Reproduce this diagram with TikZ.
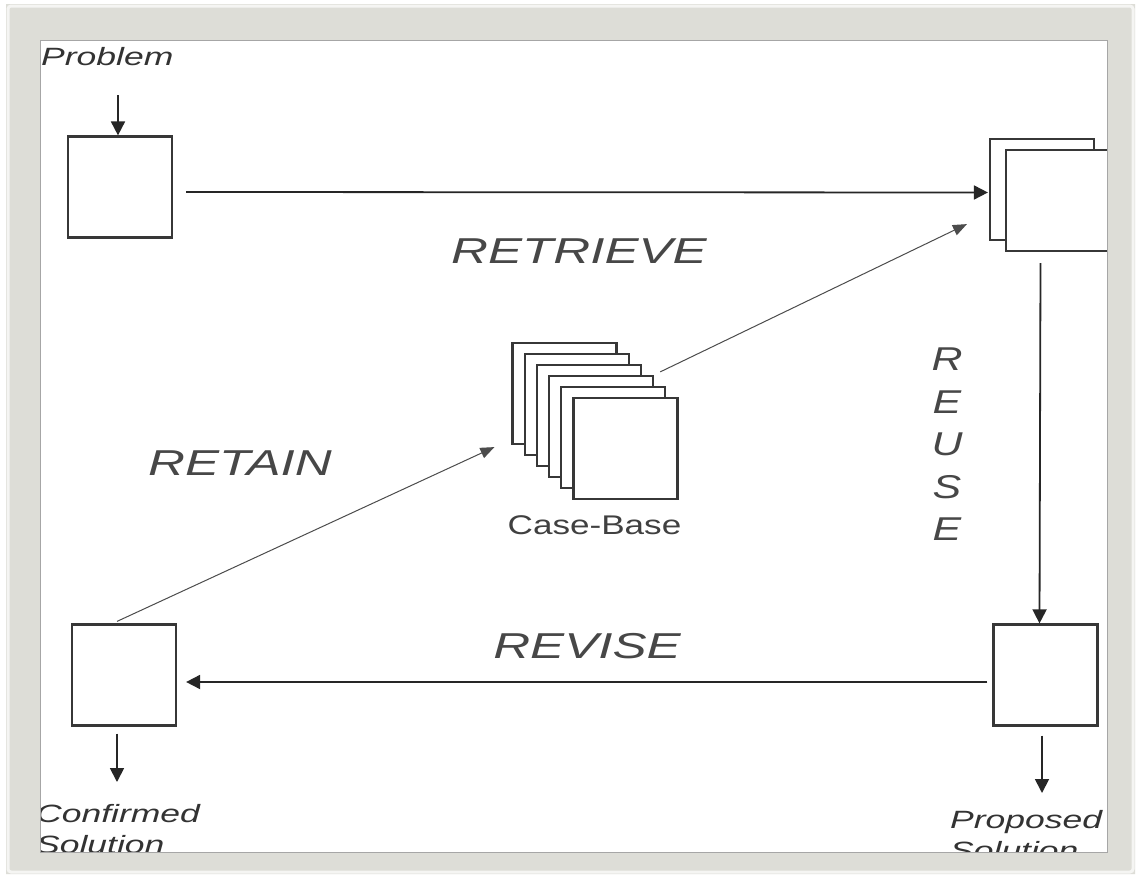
\documentclass[tikz,border=0pt]{standalone}
\usepackage{fontspec}
\newfontfamily\diagfont[FakeStretch=1.42]{Liberation Sans}
\newfontfamily\cbfont[FakeStretch=1.3]{Liberation Sans}
\usetikzlibrary{arrows.meta,positioning}
\definecolor{framegray}{RGB}{221,221,215}
\definecolor{boxline}{RGB}{55,55,55}

\begin{document}
\begin{tikzpicture}[x=1pt,y=-1pt,>={Triangle[length=14pt,width=14pt]}]
\tikzstyle{card}=[rectangle,draw=boxline,line width=2.2pt,fill=white,minimum width=104pt,minimum height=101pt,inner sep=0pt]
\tikzstyle{phase}=[font=\diagfont\itshape\fontsize{36}{36}\selectfont,text=black!72,inner sep=0pt]
\tikzstyle{tag}=[font=\diagfont\itshape\fontsize{25}{31}\selectfont,text=black!80,align=left,inner sep=0pt]
\tikzstyle{flow}=[->,line width=1.8pt,draw=black!85]
\tikzstyle{faint}=[->,line width=1pt,draw=black!70,>={Triangle[length=14pt,width=11pt]}]
\useasboundingbox (0,0) rectangle (1141,878);
\fill[white] (0,0) rectangle (1141,878);

% the cycle boxes
\node[card] (pbox) at (120,187) {};
\node[card] (rback) at (1042,189.5) {};
\node[card,minimum width=103pt] (rfront) at (1057.5,200.5) {};
\node[card] (sbox) at (1045.5,675) {};
\node[card] (cbox) at (124,675) {};

% case-base stack
\foreach \i in {0,...,5}
  \node[card] (cb\i) at (564.5+12.2*\i,393.5+11*\i) {};
\node[font=\cbfont\fontsize{27}{27}\selectfont,text=black!75,below=12pt of cb5,xshift=-31pt] (cblabel) {Case-Base};

% texts
\node[tag,anchor=base west] (prob) at (41,65) {Problem};
\node[tag,anchor=north west] (conf) at (36,804) {Confirmed\\Solution};
\node[tag,anchor=north west] (prop) at (950,810) {Proposed\\Solution};
\node[phase,anchor=base] (retrieve) at (579,263) {RETRIEVE};
\node[phase,anchor=base] (retain) at (240,475) {RETAIN};
\node[phase,anchor=base] (revise) at (587,658) {REVISE};
\node[phase,font=\cbfont\itshape\fontsize{33}{42.5}\selectfont,align=center,anchor=north] (reuse) at (947,348) {R\\E\\U\\S\\E};

\coordinate (pin) at (118,95);
\coordinate (cout) at (117,782);
\coordinate (sout) at (1042,793);

% arrows
\draw[flow] (pin) -- (pin |- pbox.north);
\draw[flow] ([shift={(13,5)}]pbox.east) -- ([shift={(-1,3)}]rback.west);
\draw[faint] ([shift={(6,-3)}]cb3.north east) -- ([shift={(-22,-17)}]rback.south west);
\draw[flow] ([shift={(-17,11)}]rfront.south) -- ([xshift=-6pt]sbox.north);
\draw[flow] ([shift={(-5,7)}]sbox.west) -- ([shift={(9,7)}]cbox.east);
\draw[faint] ([shift={(-7,-2)}]cbox.north) -- ([shift={(-17,2)}]cb0.south west);
\draw[flow] ([shift={(-7,7)}]cbox.south) -- (cout);
\draw[flow] ([shift={(-3.5,9)}]sbox.south) -- (sout);

% frame
\fill[framegray,even odd rule] (6,4) rectangle (1135,874) (40,40) rectangle (1107,852);
\draw[white!70!framegray,line width=3pt,rounded corners=3pt] (8,6) rectangle (1133,872);
\draw[black!35,line width=1pt] (40,40) rectangle (1107,852);
\end{tikzpicture}
\end{document}
